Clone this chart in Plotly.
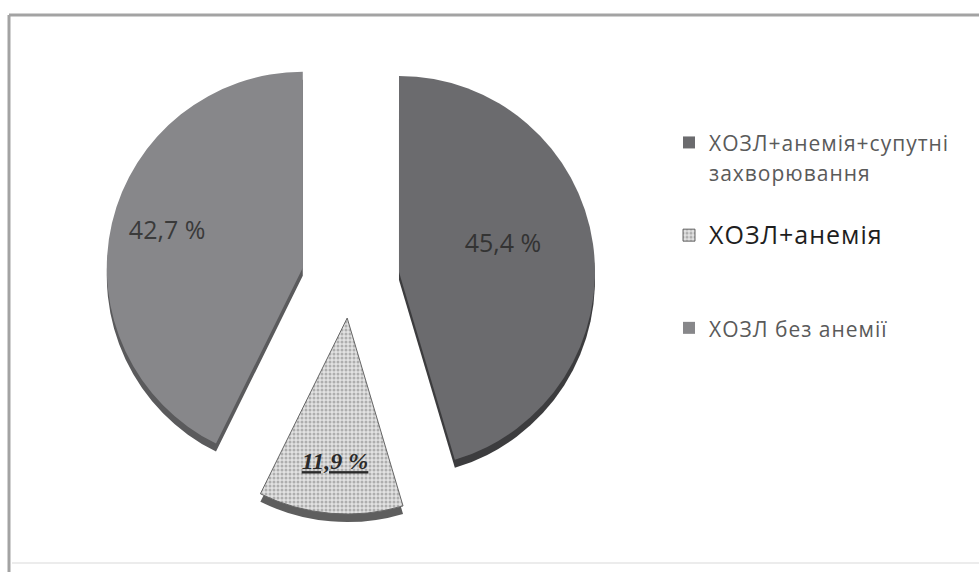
import plotly.graph_objects as go

# ---- data ----
categories = ["ХОЗЛ+анемія+супутні<br>захворювання", "ХОЗЛ+анемія", "ХОЗЛ без анемії"]
values = [45.4, 11.9, 42.7]
pulls = [0.25, 0.2, 0.25]

# ---- styling ----
slice_colors = ["#6b6b6e", "#dedede", "#87878a"]
rim_colors = ["#3c3c3e", "#5e5e5e", "#5a5a5c"]
legend_sizes = [21, 25, 21]
legend_spacing = [1, 1, 1]
legend_colors = ["#5a5a5a", "#1e1e1e", "#5a5a5a"]
legend_pad = ["<br> ", "<br> <br> ", ""]

NB = "\u00a0"

def fmt(v):
    return f"{v:.1f}".replace(".", ",") + " %"

slice_text = [fmt(v) for v in values]
slice_text[0] = NB * 2 + slice_text[0] + "<br> "
slice_text[1] = "<b><i><u>" + slice_text[1] + "</u></i></b>"
slice_text[2] = slice_text[2] + NB * 12 + "<br> "

legend_labels = []
for c, s, ls, col, pad in zip(categories, legend_sizes, legend_spacing, legend_colors, legend_pad):
    parts = c.split("<br>")
    styled = "<br>".join(
        f"<span style='font-size:{s}px;letter-spacing:{ls}px;color:{col}'>{p}</span>" for p in parts)
    legend_labels.append(styled + pad)

W, H = 979, 572
T, B = 31, 37
plot_h = H - T - B
R = 196
dom_w = 2 * R * (1 + max(pulls))
cx = 350.5
dx0, dx1 = (cx - dom_w / 2) / W, (cx + dom_w / 2) / W
shift = 4 / plot_h

fig = go.Figure()

# rim (3D edge) drawn behind
fig.add_trace(go.Pie(
    labels=legend_labels, values=values, sort=False, direction="clockwise", rotation=0,
    pull=pulls, marker=dict(colors=rim_colors, line=dict(width=0)),
    textinfo="none", hoverinfo="skip", showlegend=False,
    domain=dict(x=[dx0, dx1], y=[0, 1 - 2 * shift]),
))

fig.add_trace(go.Pie(
    labels=legend_labels, values=values, sort=False, direction="clockwise", rotation=0,
    pull=pulls,
    marker=dict(
        colors=slice_colors,
        line=dict(width=[0, 1, 0], color=["rgba(0,0,0,0)", "#666666", "rgba(0,0,0,0)"]),
        pattern=dict(shape=["", ".", ""], fgcolor="#7a7a7a", bgcolor="#e2e2e2",
                     size=4, solidity=0.45, fillmode="overlay"),
    ),
    text=slice_text, textinfo="text", textposition="inside",
    insidetextorientation="horizontal",
    textfont=dict(
        family=["Open Sans", "Liberation Serif", "Open Sans"],
        size=[25, 24, 25],
        color=["#333333", "#2a2a2a", "#3a3a3a"],
    ),
    hoverinfo="skip",
    domain=dict(x=[dx0, dx1], y=[2 * shift, 1]),
))

fig.update_layout(
    width=W, height=H,
    margin=dict(l=0, r=0, t=T, b=B),
    paper_bgcolor="white", plot_bgcolor="white",
    font=dict(family="Open Sans", color="#555555"),
    legend=dict(
        x=669 / W, xanchor="left",
        y=(H - B - 121) / plot_h, yanchor="top",
        font=dict(size=23, family="Open Sans", color="#555555"),
        valign="top", bgcolor="rgba(0,0,0,0)", borderwidth=0,
    ),
    shapes=[
        dict(type="line", xref="paper", yref="paper", x0=9 / W, x1=1.01,
             y0=(H - B - 15) / plot_h, y1=(H - B - 15) / plot_h,
             line=dict(color="#a3a3a3", width=3)),
        dict(type="line", xref="paper", yref="paper", x0=9 / W, x1=9 / W,
             y0=(H - B - 15) / plot_h, y1=-0.2,
             line=dict(color="#a3a3a3", width=3)),
        dict(type="line", xref="paper", yref="paper", x0=12 / W, x1=1.01,
             y0=(H - B - 563) / plot_h, y1=(H - B - 563) / plot_h,
             line=dict(color="#ececec", width=2)),
    ],
)

fig.write_html("out.html")
